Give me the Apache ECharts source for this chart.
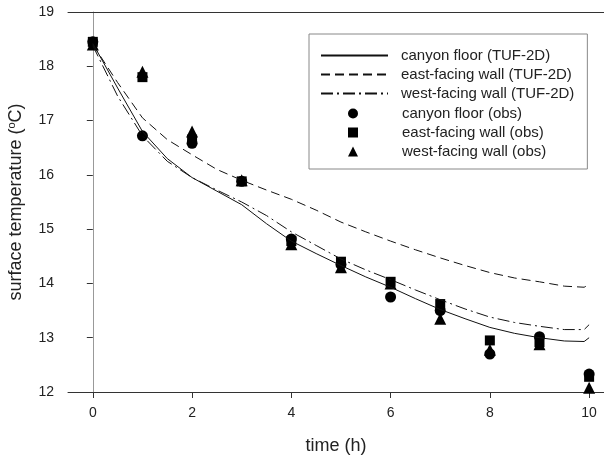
<!DOCTYPE html>
<html>
<head>
<meta charset="utf-8">
<script src="https://cdn.jsdelivr.net/npm/echarts@6/dist/echarts.min.js"></script>
<style>
  html, body { margin: 0; padding: 0; background: #fff; }
  #chart { width: 604px; height: 456px; }
</style>
</head>
<body>
<div id="chart"></div>
<script>
// model curves (TUF-2D), sampled every half hour
const modelTime = [0, 0.5, 1, 1.5, 2, 2.5, 3, 3.5, 4, 4.5, 5, 5.5, 6, 6.5, 7, 7.5, 8, 8.5, 9, 9.5, 9.9, 10];
const floorModel = [18.42, 17.6, 16.8, 16.3, 15.95, 15.7, 15.45, 15.1, 14.78, 14.55, 14.33, 14.12, 13.93, 13.72, 13.52, 13.35, 13.19, 13.08, 13.0, 12.94, 12.93, 13.0];
const eastModel = [18.4, 17.7, 17.05, 16.65, 16.37, 16.1, 15.9, 15.72, 15.55, 15.35, 15.13, 14.95, 14.78, 14.62, 14.47, 14.33, 14.2, 14.1, 14.03, 13.95, 13.93, 13.98];
const westModel = [18.38, 17.45, 16.72, 16.25, 15.95, 15.72, 15.5, 15.25, 14.95, 14.7, 14.45, 14.25, 14.07, 13.88, 13.7, 13.53, 13.38, 13.28, 13.21, 13.15, 13.15, 13.24];

// observations, hourly
const obsTime = [0, 1, 2, 3, 4, 5, 6, 7, 8, 9, 10];
const floorObs = [18.45, 16.72, 16.58, 15.88, 14.82, 14.35, 13.75, 13.5, 12.7, 13.02, 12.33];
const eastObs = [18.45, 17.8, 16.65, 15.88, 14.78, 14.4, 14.03, 13.62, 12.95, 12.92, 12.28];
const westObs = [18.4, 17.9, 16.8, 15.9, 14.72, 14.3, 14.0, 13.35, 12.78, 12.88, 12.08];

const xTicks = [0, 2, 4, 6, 8, 10];

const lineNames = ['canyon floor (TUF-2D)', 'east-facing wall (TUF-2D)', 'west-facing wall (TUF-2D)'];
const obsNames = ['canyon floor (obs)', 'east-facing wall (obs)', 'west-facing wall (obs)'];

function pairs(xs, ys) {
  return xs.map((x, i) => [x, ys[i]]);
}

let myChart = echarts.init(document.getElementById('chart'));

const font = 'Liberation Sans, Arial, sans-serif';
const hidden = { color: 'rgba(0,0,0,0)', borderWidth: 0 };

let option = {
  animation: false,
  textStyle: { fontFamily: font },
  grid: { left: 68, right: 0, top: 12, bottom: 64, outerBoundsMode: 'none' },
  legend: [
    {
      // model lines, the box is drawn round both legends
      orient: 'vertical',
      left: 309,
      top: 34,
      padding: [14, 13, 68, 11],
      itemWidth: 67,
      itemHeight: 10,
      itemGap: 4,
      borderColor: '#888',
      borderWidth: 1,
      textStyle: { fontSize: 15, color: '#222', fontFamily: font, padding: [0, 0, 0, 8] },
      data: lineNames.map(n => ({ name: n, itemStyle: hidden }))
    },
    {
      // observed points
      orient: 'vertical',
      left: 348,
      top: 106,
      padding: 0,
      itemWidth: 10,
      itemHeight: 10,
      itemGap: 4,
      textStyle: { fontSize: 15, color: '#222', fontFamily: font, padding: [0, 0, 0, 39] },
      data: obsNames
    }
  ],
  xAxis: [
    {
      type: 'value',
      min: -0.5,
      max: 10.3,
      name: 'time (h)',
      nameLocation: 'middle',
      nameGap: 45,
      nameTextStyle: { fontSize: 18, color: '#222' },
      axisLine: { show: true, lineStyle: { color: '#333' } },
      axisTick: { show: true, customValues: xTicks, length: 6, lineStyle: { color: '#333' } },
      axisLabel: { customValues: xTicks, fontSize: 14, color: '#222', margin: 14 },
      splitLine: { show: false }
    },
    {
      type: 'value',
      position: 'top',
      min: -0.5,
      max: 10.3,
      axisLine: { show: true, lineStyle: { color: '#333' } },
      axisTick: { show: false },
      axisLabel: { show: false },
      splitLine: { show: false }
    }
  ],
  yAxis: {
    type: 'value',
    min: 12,
    max: 19,
    interval: 1,
    name: 'surface temperature ({s|o}C)',
    nameLocation: 'middle',
    nameGap: 42,
    nameTextStyle: {
      fontSize: 18,
      color: '#222',
      rich: { s: { fontSize: 11, verticalAlign: 'top', padding: [0, 0, 9, 0], color: '#222' } }
    },
    axisLine: { show: true, lineStyle: { color: '#999' } },
    axisTick: { show: true, inside: false, length: 6, lineStyle: { color: '#333' } },
    axisLabel: { fontSize: 14, color: '#222', margin: 14 },
    splitLine: { show: false }
  },
  series: [
    {
      name: lineNames[0],
      type: 'line',
      symbol: 'circle',
      symbolSize: 0,
      showSymbol: false,
      color: '#111',
      lineStyle: { color: '#111', width: 1, type: 'solid' },
      data: pairs(modelTime, floorModel)
    },
    {
      name: lineNames[1],
      type: 'line',
      symbol: 'circle',
      symbolSize: 0,
      showSymbol: false,
      color: '#111',
      lineStyle: { color: '#111', width: 1, type: [9, 5] },
      data: pairs(modelTime, eastModel)
    },
    {
      name: lineNames[2],
      type: 'line',
      symbol: 'circle',
      symbolSize: 0,
      showSymbol: false,
      color: '#111',
      lineStyle: { color: '#111', width: 1, type: [12, 4, 2, 4] },
      data: pairs(modelTime, westModel)
    },
    {
      name: obsNames[0],
      type: 'scatter',
      symbol: 'circle',
      symbolSize: 11,
      itemStyle: { color: '#000', opacity: 1 },
      data: pairs(obsTime, floorObs)
    },
    {
      name: obsNames[1],
      type: 'scatter',
      symbol: 'rect',
      symbolSize: 10,
      itemStyle: { color: '#000', opacity: 1 },
      data: pairs(obsTime, eastObs)
    },
    {
      name: obsNames[2],
      type: 'scatter',
      symbol: 'triangle',
      symbolSize: 12,
      itemStyle: { color: '#000', opacity: 1 },
      data: pairs(obsTime, westObs)
    }
  ]
};

myChart.setOption(option);
</script>
</body>
</html>
